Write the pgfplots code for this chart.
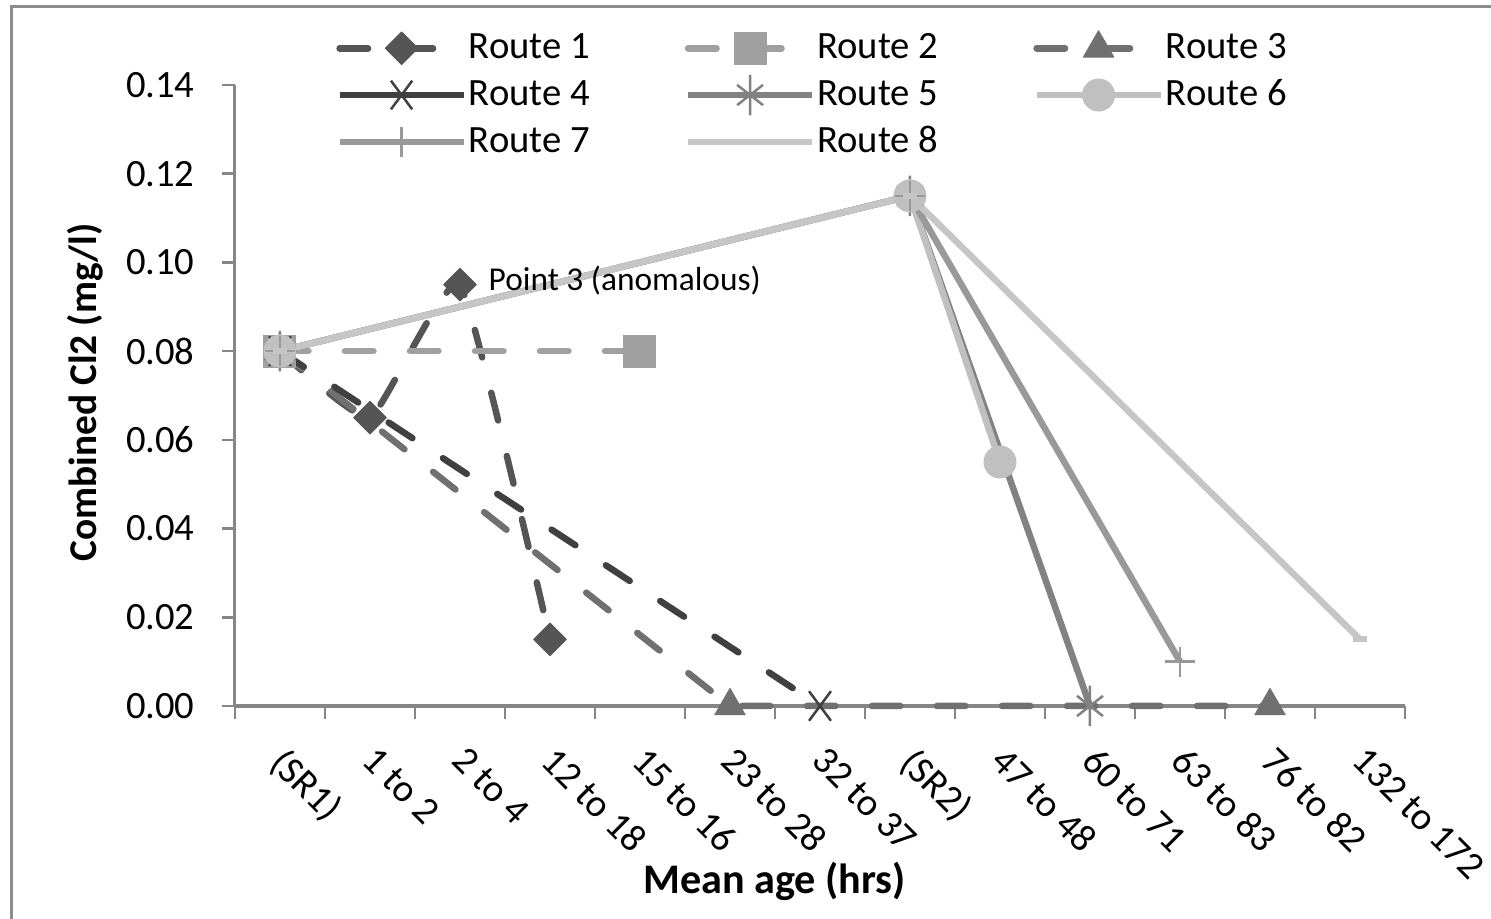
\documentclass[border=0pt]{standalone}
\usepackage{pgfplots}
\pgfplotsset{compat=1.18}
\usepackage{fontspec}
\setmainfont{Carlito}
\definecolor{c1}{HTML}{555555}
\definecolor{c2}{HTML}{A0A0A0}
\definecolor{c3}{HTML}{707070}
\definecolor{c4}{HTML}{404040}
\definecolor{c5}{HTML}{828282}
\definecolor{c6}{HTML}{C0C0C0}
\definecolor{c7}{HTML}{999999}
\definecolor{c8}{HTML}{C6C6C6}
\definecolor{axgray}{HTML}{868686}
\definecolor{framegray}{HTML}{8C8C8C}
\pgfplotsset{
  dsh/.style={dash pattern=on 2.85mm off 3.65mm, line cap=round},
  base/.style={line width=0.65mm, line join=round},
  r1/.style={base, color=c1, dsh, mark=square*, mark size=1.15mm, mark options={solid, rotate=45, fill=c1, line width=0.1mm}},
  r2/.style={base, color=c2, dsh, mark=square*, mark size=1.6mm, mark options={solid, fill=c2, line width=0.1mm}},
  r3/.style={base, color=c3, dsh, mark=triangle*, mark size=1.75mm, mark options={solid, fill=c3, line width=0.1mm}},
  r4/.style={base, color=c4, mark=x, mark size=1.5mm, mark options={solid, yscale=1.35, line width=0.25mm}},
  r5/.style={base, color=c5, mark=asterisk, mark size=1.5mm, mark options={solid, yscale=1.35, line width=0.25mm}},
  r6/.style={base, color=c6, mark=*, mark size=1.6mm, mark options={solid, fill=c6, line width=0.1mm}},
  r7/.style={base, color=c7, mark=+, mark size=1.5mm, mark options={solid, line width=0.25mm}},
  r8/.style={base, color=c8, mark=-, mark size=0.7mm, mark options={solid, line width=0.6mm}},
}
\begin{document}
\begin{tikzpicture}
\useasboundingbox (-23.5mm,-21.3mm) rectangle (125.6mm,70.6mm);
\draw[color=framegray, line width=0.3mm] (-22.3mm,-23mm) -- (-22.3mm,69.9mm) -- (127mm,69.9mm);
\begin{axis}[
  scale only axis, width=117mm, height=62.1mm,
  at={(0,0)}, anchor=south west,
  xmin=-0.5, xmax=12.5, ymin=0, ymax=0.14,
  axis x line*=bottom, axis y line*=left,
  every outer x axis line/.append style={-, color=axgray, line width=0.4mm},
  every outer y axis line/.append style={-, color=axgray, line width=0.3mm},
  tick align=outside,
  xtick={0,1,2,3,4,5,6,7,8,9,10,11,12},
  xticklabels={(SR1),1 to 2,2 to 4,12 to 18,15 to 16,23 to 28,32 to 37,(SR2),47 to 48,60 to 71,63 to 83,76 to 82,132 to 172},
  major x tick style={draw=none},
  minor xtick={-0.5,0.5,1.5,2.5,3.5,4.5,5.5,6.5,7.5,8.5,9.5,10.5,11.5,12.5},
  minor tick length=1.3mm, major tick length=1.3mm,
  x tick style={color=axgray, line width=0.25mm},
  y tick style={color=axgray, line width=0.25mm},
  ytick={0,0.02,0.04,0.06,0.08,0.1,0.12,0.14},
  scaled y ticks=false,
  yticklabel style={/pgf/number format/fixed, /pgf/number format/fixed zerofill, /pgf/number format/precision=2, /pgf/number format/assume math mode=true, font=\fontsize{11}{13}\selectfont, xshift=-1.5mm},
  xticklabel style={rotate=-45, anchor=north west, font=\fontsize{11}{13}\selectfont, xshift=1.2mm},
  xlabel={\textbf{Mean age (hrs)}},
  ylabel={\textbf{Combined Cl2 (mg/l)}},
  xlabel style={at={(axis description cs:0.461,-0.283)}, anchor=center, font=\fontsize{12}{14}\selectfont},
  ylabel style={at={(axis description cs:-0.128,0.505)}, anchor=center, rotate=0, font=\fontsize{11.2}{13}\selectfont},
  legend columns=3,
  legend style={draw=none, fill=none, at={(axis description cs:0.077,1.103)}, anchor=north west,
    font=\fontsize{11}{13}\selectfont,
    nodes={inner ysep=0pt, inner xsep=0.2mm, text height=3.0mm, text depth=0.9mm},
    row sep=0.7mm,
    /tikz/every even column/.append style={column sep=9.3mm}},
  legend cell align=left,
  legend image code/.code={\draw[mark repeat=2, mark phase=2, #1] plot coordinates {(0mm,0mm) (6.2mm,0mm) (12.4mm,0mm)};},
  clip=false,
]
\addplot[r1, smooth, tension=0.25] coordinates {(0,0.08) (1,0.065) (2,0.095) (3,0.015)};
\addlegendentry{Route 1}
\addplot[r2] coordinates {(0,0.08) (4,0.08)};
\addlegendentry{Route 2}
\addplot[r3] coordinates {(0,0.08) (5,0) (11,0)};
\addlegendentry{Route 3}
\addplot[r4, dsh, forget plot] coordinates {(0,0.08) (6,0)};
\addlegendimage{r4}
\addlegendentry{Route 4}
\addplot[r5] coordinates {(0,0.08) (7,0.115) (9,0)};
\addlegendentry{Route 5}
\addplot[r6] coordinates {(0,0.08) (7,0.115) (8,0.055)};
\addlegendentry{Route 6}
\addplot[r7] coordinates {(0,0.08) (7,0.115) (10,0.01)};
\addlegendentry{Route 7}
\addplot[r8] coordinates {(0,0.08) (7,0.115) (12,0.015)};
\addlegendentry{Route 8}
\node[anchor=west, font=\fontsize{9.5}{11}\selectfont, inner sep=0pt] at (axis cs:2,0.095) [xshift=2.8mm, yshift=0.4mm] {Point 3 (anomalous)};
\end{axis}
\end{tikzpicture}
\end{document}
